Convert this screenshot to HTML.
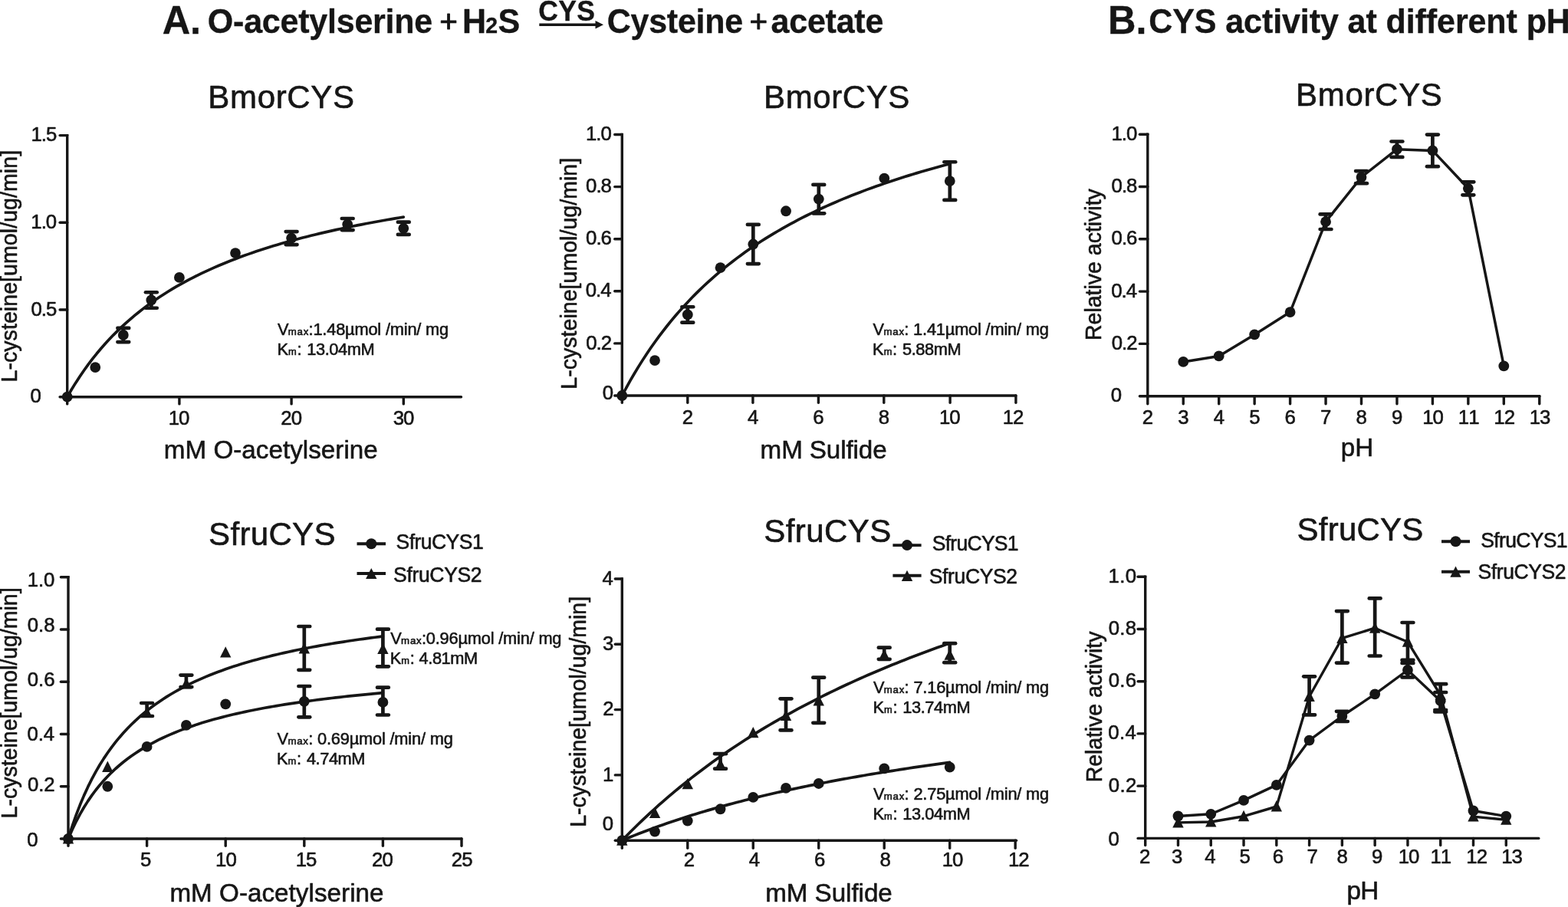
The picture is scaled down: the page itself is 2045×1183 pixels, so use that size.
<!DOCTYPE html>
<html lang="en">
<head>
<meta charset="utf-8">
<title>CYS enzyme kinetics and pH activity</title>
<style>
html, body { margin: 0; padding: 0; background: #ffffff; }
body { width: 2045px; height: 1183px; overflow: hidden; }
svg { display: block; font-family: "Liberation Sans", sans-serif; fill: #161616; stroke: #161616; font-kerning: none; }
svg text { stroke: #161616; stroke-width: 0.6px; stroke-linejoin: round; white-space: pre; }
svg text[font-weight="bold"] { stroke-width: 0.35px; }
svg text.plus { stroke: #161616; stroke-width: 0.9px; }
svg circle, svg polygon { stroke: none; }
</style>
</head>
<body>
<svg width="2045" height="1183" viewBox="0 0 2045 1183">
<rect x="0" y="0" width="2045" height="1183" fill="#ffffff" stroke="none"/>
<text transform="translate(211.64 44) scale(1 1.028)" font-size="50.5" font-weight="bold">A.</text>
<text transform="translate(270.84 42.5) scale(1 1.028)" font-size="43" font-weight="bold" letter-spacing="-0.22">O-acetylserine</text>
<text transform="translate(573.18 42.2)" font-size="40.5" class="plus">+</text>
<text transform="translate(0 42.5) scale(1 1.028)" font-size="43" font-weight="bold"><tspan x="603.02">H</tspan><tspan x="633.31" font-size="28.5">2</tspan><tspan x="649.56">S</tspan></text>
<text transform="translate(702.24 26.6) scale(1 1.028)" font-size="35.5" font-weight="bold" letter-spacing="0.37">CYS</text>
<line x1="703.3" y1="32.3" x2="778" y2="32.3" stroke-width="3.5"/>
<polygon points="776.5,27 787,32.3 776.5,37.6"/>
<text transform="translate(791.64 42.5) scale(1 1.028)" font-size="43" font-weight="bold" letter-spacing="-0.23">Cysteine</text>
<text transform="translate(977.58 42.2)" font-size="40.5" class="plus">+</text>
<text transform="translate(1005.54 42.5) scale(1 1.028)" font-size="43" font-weight="bold" letter-spacing="-0.23">acetate</text>
<text transform="translate(1445.12 44) scale(1 1.028)" font-size="50.5" font-weight="bold">B.</text>
<text transform="translate(1498.24 42.6) scale(1 1.028)" font-size="43" font-weight="bold" letter-spacing="-0.08">CYS activity at different pH</text>
<text transform="translate(271.35 140.7) scale(1 1.028)" font-size="42" letter-spacing="0.66">BmorCYS</text>
<line x1="87.7" y1="174.9" x2="87.7" y2="519.4" stroke-width="3.4"/>
<line x1="78.1" y1="517.7" x2="601.5" y2="517.7" stroke-width="3.4" stroke-linecap="round"/>
<line x1="78.1" y1="404" x2="87.7" y2="404" stroke-width="3.4" stroke-linecap="round"/>
<line x1="78.1" y1="290.3" x2="87.7" y2="290.3" stroke-width="3.4" stroke-linecap="round"/>
<line x1="78.1" y1="176.6" x2="87.7" y2="176.6" stroke-width="3.4" stroke-linecap="round"/>
<line x1="87.7" y1="517.7" x2="87.7" y2="526.9" stroke-width="3.4" stroke-linecap="round"/>
<line x1="233.9" y1="517.7" x2="233.9" y2="526.9" stroke-width="3.4" stroke-linecap="round"/>
<line x1="380.1" y1="517.7" x2="380.1" y2="526.9" stroke-width="3.4" stroke-linecap="round"/>
<line x1="526.3" y1="517.7" x2="526.3" y2="526.9" stroke-width="3.4" stroke-linecap="round"/>
<text transform="translate(39.59 525.3) scale(1 1.025)" font-size="25.8" letter-spacing="-1">0</text>
<text transform="translate(40.42 411.6) scale(1 1.025)" font-size="25.8" letter-spacing="-1">0.5</text>
<text transform="translate(40.34 297.9) scale(1 1.025)" font-size="25.8" letter-spacing="-1">1.0</text>
<text transform="translate(40.42 184.2) scale(1 1.025)" font-size="25.8" letter-spacing="-1">1.5</text>
<text transform="translate(219.77 554.1) scale(1 1.025)" font-size="25.8" letter-spacing="-1">10</text>
<text transform="translate(366.31 554.1) scale(1 1.025)" font-size="25.8" letter-spacing="-1">20</text>
<text transform="translate(512.66 554.1) scale(1 1.025)" font-size="25.8" letter-spacing="-1">30</text>
<text transform="translate(22.4 498.54) rotate(-90) scale(1 1.028)" font-size="28.5" letter-spacing="0.08">L-cysteine[umol/ug/min]</text>
<text transform="translate(213.8 598.4) scale(1 1.028)" font-size="33.2" letter-spacing="0.03">mM O-acetylserine</text>
<polyline points="87.7,517.7 93.18,508.29 98.67,499.4 104.15,490.97 109.63,482.98 115.11,475.39 120.59,468.17 126.08,461.3 131.56,454.75 137.04,448.5 142.53,442.53 148.01,436.82 153.49,431.36 158.97,426.12 164.45,421.1 169.94,416.27 175.42,411.64 180.9,407.19 186.38,402.91 191.87,398.78 197.35,394.81 202.83,390.98 208.31,387.28 213.8,383.72 219.28,380.27 224.76,376.94 230.25,373.72 235.73,370.6 241.21,367.58 246.69,364.66 252.18,361.82 257.66,359.08 263.14,356.41 268.62,353.83 274.11,351.32 279.59,348.88 285.07,346.51 290.55,344.2 296.03,341.96 301.52,339.78 307,337.66 312.48,335.6 317.96,333.58 323.45,331.62 328.93,329.71 334.41,327.85 339.89,326.04 345.38,324.26 350.86,322.53 356.34,320.85 361.82,319.2 367.31,317.59 372.79,316.02 378.27,314.48 383.75,312.98 389.24,311.51 394.72,310.07 400.2,308.67 405.68,307.29 411.17,305.95 416.65,304.63 422.13,303.34 427.61,302.08 433.1,300.84 438.58,299.63 444.06,298.44 449.54,297.28 455.03,296.14 460.51,295.02 465.99,293.92 471.47,292.85 476.96,291.79 482.44,290.75 487.92,289.74 493.4,288.74 498.89,287.76 504.37,286.8 509.85,285.85 515.34,284.92 520.82,284.01 526.3,283.11" fill="none" stroke-width="3.7" stroke-linejoin="round" stroke-linecap="round"/>
<circle cx="87.7" cy="517.7" r="6.9"/>
<circle cx="124.25" cy="479.04" r="6.9"/>
<line x1="160.8" y1="427.88" x2="160.8" y2="446.07" stroke-width="4.7"/>
<line x1="153.4" y1="427.88" x2="168.2" y2="427.88" stroke-width="4.7" stroke-linecap="round"/>
<line x1="153.4" y1="446.07" x2="168.2" y2="446.07" stroke-width="4.7" stroke-linecap="round"/>
<circle cx="160.8" cy="436.97" r="6.9"/>
<line x1="197.35" y1="381.26" x2="197.35" y2="401.73" stroke-width="4.7"/>
<line x1="189.95" y1="381.26" x2="204.75" y2="381.26" stroke-width="4.7" stroke-linecap="round"/>
<line x1="189.95" y1="401.73" x2="204.75" y2="401.73" stroke-width="4.7" stroke-linecap="round"/>
<circle cx="197.35" cy="391.49" r="6.9"/>
<circle cx="233.9" cy="361.93" r="6.9"/>
<circle cx="307" cy="330.1" r="6.9"/>
<line x1="380.1" y1="302.03" x2="380.1" y2="319.04" stroke-width="4.7"/>
<line x1="372.7" y1="302.03" x2="387.5" y2="302.03" stroke-width="4.7" stroke-linecap="round"/>
<line x1="372.7" y1="319.04" x2="387.5" y2="319.04" stroke-width="4.7" stroke-linecap="round"/>
<circle cx="380.1" cy="310.54" r="6.9"/>
<line x1="453.2" y1="285.02" x2="453.2" y2="300.12" stroke-width="4.7"/>
<line x1="445.8" y1="285.02" x2="460.6" y2="285.02" stroke-width="4.7" stroke-linecap="round"/>
<line x1="445.8" y1="300.12" x2="460.6" y2="300.12" stroke-width="4.7" stroke-linecap="round"/>
<circle cx="453.2" cy="292.57" r="6.9"/>
<line x1="526.3" y1="289.66" x2="526.3" y2="305.95" stroke-width="4.7"/>
<line x1="518.9" y1="289.66" x2="533.7" y2="289.66" stroke-width="4.7" stroke-linecap="round"/>
<line x1="518.9" y1="305.95" x2="533.7" y2="305.95" stroke-width="4.7" stroke-linecap="round"/>
<circle cx="526.3" cy="297.8" r="6.9"/>
<text transform="translate(0 436.8) scale(1 1.028)" font-size="21.8"><tspan x="361.9">V</tspan><tspan x="375.82" font-size="13.2" letter-spacing="0.79">max</tspan><tspan x="402.61">:</tspan><tspan x="408.4" letter-spacing="-0.18">1.48µmol /min/ mg</tspan></text>
<text transform="translate(0 462.7) scale(1 1.028)" font-size="21.8"><tspan x="361.41">K</tspan><tspan x="375.95" font-size="12.8">m</tspan><tspan x="387.41">: </tspan><tspan x="400.3" letter-spacing="-0.43">13.04mM</tspan></text>
<text transform="translate(996.05 140.9) scale(1 1.028)" font-size="42" letter-spacing="0.61">BmorCYS</text>
<line x1="811.3" y1="173.8" x2="811.3" y2="517.7" stroke-width="3.4"/>
<line x1="801.7" y1="516" x2="1324.9" y2="516" stroke-width="3.4" stroke-linecap="round"/>
<line x1="801.7" y1="447.9" x2="811.3" y2="447.9" stroke-width="3.4" stroke-linecap="round"/>
<line x1="801.7" y1="379.8" x2="811.3" y2="379.8" stroke-width="3.4" stroke-linecap="round"/>
<line x1="801.7" y1="311.7" x2="811.3" y2="311.7" stroke-width="3.4" stroke-linecap="round"/>
<line x1="801.7" y1="243.6" x2="811.3" y2="243.6" stroke-width="3.4" stroke-linecap="round"/>
<line x1="801.7" y1="175.5" x2="811.3" y2="175.5" stroke-width="3.4" stroke-linecap="round"/>
<line x1="811.3" y1="516" x2="811.3" y2="525.2" stroke-width="3.4" stroke-linecap="round"/>
<line x1="896.8" y1="516" x2="896.8" y2="525.2" stroke-width="3.4" stroke-linecap="round"/>
<line x1="981.9" y1="516" x2="981.9" y2="525.2" stroke-width="3.4" stroke-linecap="round"/>
<line x1="1067.4" y1="516" x2="1067.4" y2="525.2" stroke-width="3.4" stroke-linecap="round"/>
<line x1="1152.8" y1="516" x2="1152.8" y2="525.2" stroke-width="3.4" stroke-linecap="round"/>
<line x1="1239.1" y1="516" x2="1239.1" y2="525.2" stroke-width="3.4" stroke-linecap="round"/>
<line x1="1324.9" y1="516" x2="1324.9" y2="525.2" stroke-width="3.4" stroke-linecap="round"/>
<text transform="translate(785.86 520.8) scale(1 1.025)" font-size="25.8" letter-spacing="-1">0</text>
<text transform="translate(764.23 455.5) scale(1 1.025)" font-size="25.8" letter-spacing="-1">0.2</text>
<text transform="translate(763.69 387.4) scale(1 1.025)" font-size="25.8" letter-spacing="-1">0.4</text>
<text transform="translate(764.07 319.3) scale(1 1.025)" font-size="25.8" letter-spacing="-1">0.6</text>
<text transform="translate(764.06 251.2) scale(1 1.025)" font-size="25.8" letter-spacing="-1">0.8</text>
<text transform="translate(763.94 183.1) scale(1 1.025)" font-size="25.8" letter-spacing="-1">1.0</text>
<text transform="translate(889.83 553) scale(1 1.025)" font-size="25.8" letter-spacing="-1">2</text>
<text transform="translate(975.01 553) scale(1 1.025)" font-size="25.8" letter-spacing="-1">4</text>
<text transform="translate(1060.34 553) scale(1 1.025)" font-size="25.8" letter-spacing="-1">6</text>
<text transform="translate(1145.83 553) scale(1 1.025)" font-size="25.8" letter-spacing="-1">8</text>
<text transform="translate(1224.97 553) scale(1 1.025)" font-size="25.8" letter-spacing="-1">10</text>
<text transform="translate(1307.72 553) scale(1 1.025)" font-size="25.8" letter-spacing="-1">12</text>
<text transform="translate(752.3 507.64) rotate(-90) scale(1 1.028)" font-size="28.5" letter-spacing="0.04">L-cysteine[umol/ug/min]</text>
<text transform="translate(991.6 598.4) scale(1 1.028)" font-size="33.2" letter-spacing="-0.11">mM Sulfide</text>
<polyline points="811.3,516 816.64,506.01 821.99,496.42 827.33,487.22 832.67,478.37 838.02,469.87 843.36,461.69 848.71,453.81 854.05,446.22 859.39,438.9 864.74,431.83 870.08,425.01 875.42,418.42 880.77,412.05 886.11,405.88 891.46,399.92 896.8,394.15 902.14,388.55 907.49,383.13 912.83,377.87 918.17,372.77 923.52,367.82 928.86,363.01 934.21,358.34 939.55,353.8 944.89,349.39 950.24,345.1 955.58,340.92 960.92,336.86 966.27,332.9 971.61,329.04 976.96,325.29 982.3,321.63 987.64,318.06 992.99,314.57 998.33,311.18 1003.67,307.86 1009.02,304.63 1014.36,301.47 1019.71,298.38 1025.05,295.36 1030.39,292.42 1035.74,289.54 1041.08,286.72 1046.42,283.96 1051.77,281.27 1057.11,278.63 1062.46,276.05 1067.8,273.52 1073.14,271.05 1078.49,268.63 1083.83,266.25 1089.17,263.93 1094.52,261.65 1099.86,259.41 1105.21,257.22 1110.55,255.07 1115.89,252.97 1121.24,250.9 1126.58,248.87 1131.92,246.88 1137.27,244.93 1142.61,243.01 1147.96,241.13 1153.3,239.28 1158.64,237.47 1163.99,235.68 1169.33,233.93 1174.67,232.21 1180.02,230.52 1185.36,228.86 1190.71,227.22 1196.05,225.61 1201.39,224.03 1206.74,222.48 1212.08,220.95 1217.42,219.45 1222.77,217.97 1228.11,216.51 1233.46,215.08 1238.8,213.67" fill="none" stroke-width="3.7" stroke-linejoin="round" stroke-linecap="round"/>
<circle cx="811.3" cy="516" r="6.9"/>
<circle cx="854.05" cy="470.03" r="6.9"/>
<line x1="896.8" y1="400.23" x2="896.8" y2="420.66" stroke-width="4.7"/>
<line x1="889.4" y1="400.23" x2="904.2" y2="400.23" stroke-width="4.7" stroke-linecap="round"/>
<line x1="889.4" y1="420.66" x2="904.2" y2="420.66" stroke-width="4.7" stroke-linecap="round"/>
<circle cx="896.8" cy="410.44" r="6.9"/>
<circle cx="939.55" cy="349.15" r="6.9"/>
<line x1="982.3" y1="292.97" x2="982.3" y2="344.05" stroke-width="4.7"/>
<line x1="974.9" y1="292.97" x2="989.7" y2="292.97" stroke-width="4.7" stroke-linecap="round"/>
<line x1="974.9" y1="344.05" x2="989.7" y2="344.05" stroke-width="4.7" stroke-linecap="round"/>
<circle cx="982.3" cy="318.51" r="6.9"/>
<circle cx="1025.05" cy="275.27" r="6.9"/>
<line x1="1067.8" y1="240.88" x2="1067.8" y2="278.33" stroke-width="4.7"/>
<line x1="1060.4" y1="240.88" x2="1075.2" y2="240.88" stroke-width="4.7" stroke-linecap="round"/>
<line x1="1060.4" y1="278.33" x2="1075.2" y2="278.33" stroke-width="4.7" stroke-linecap="round"/>
<circle cx="1067.8" cy="259.6" r="6.9"/>
<circle cx="1153.3" cy="232.7" r="6.9"/>
<line x1="1238.8" y1="211.25" x2="1238.8" y2="260.97" stroke-width="4.7"/>
<line x1="1231.4" y1="211.25" x2="1246.2" y2="211.25" stroke-width="4.7" stroke-linecap="round"/>
<line x1="1231.4" y1="260.97" x2="1246.2" y2="260.97" stroke-width="4.7" stroke-linecap="round"/>
<circle cx="1238.8" cy="236.11" r="6.9"/>
<text transform="translate(0 436.8) scale(1 1.028)" font-size="21.8"><tspan x="1138.6">V</tspan><tspan x="1152.52" font-size="13.2" letter-spacing="0.79">max</tspan><tspan x="1179.31">: </tspan><tspan x="1191.1" letter-spacing="-0.18">1.41µmol /min/ mg</tspan></text>
<text transform="translate(0 462.7) scale(1 1.028)" font-size="21.8"><tspan x="1138.11">K</tspan><tspan x="1152.65" font-size="12.8">m</tspan><tspan x="1164.11">: </tspan><tspan x="1177" letter-spacing="-0.43">5.88mM</tspan></text>
<text transform="translate(1690.05 137.6) scale(1 1.028)" font-size="42" letter-spacing="0.69">BmorCYS</text>
<line x1="1496.8" y1="173.5" x2="1496.8" y2="518.4" stroke-width="3.4"/>
<line x1="1486.4" y1="516.7" x2="2008" y2="516.7" stroke-width="3.4" stroke-linecap="round"/>
<line x1="1486.4" y1="448.4" x2="1496.8" y2="448.4" stroke-width="3.4" stroke-linecap="round"/>
<line x1="1486.4" y1="380.1" x2="1496.8" y2="380.1" stroke-width="3.4" stroke-linecap="round"/>
<line x1="1486.4" y1="311.8" x2="1496.8" y2="311.8" stroke-width="3.4" stroke-linecap="round"/>
<line x1="1486.4" y1="243.5" x2="1496.8" y2="243.5" stroke-width="3.4" stroke-linecap="round"/>
<line x1="1486.4" y1="175.2" x2="1496.8" y2="175.2" stroke-width="3.4" stroke-linecap="round"/>
<line x1="1496.8" y1="516.7" x2="1496.8" y2="526.7" stroke-width="3.4" stroke-linecap="round"/>
<line x1="1543.25" y1="516.7" x2="1543.25" y2="526.7" stroke-width="3.4" stroke-linecap="round"/>
<line x1="1589.7" y1="516.7" x2="1589.7" y2="526.7" stroke-width="3.4" stroke-linecap="round"/>
<line x1="1636.15" y1="516.7" x2="1636.15" y2="526.7" stroke-width="3.4" stroke-linecap="round"/>
<line x1="1682.6" y1="516.7" x2="1682.6" y2="526.7" stroke-width="3.4" stroke-linecap="round"/>
<line x1="1729.05" y1="516.7" x2="1729.05" y2="526.7" stroke-width="3.4" stroke-linecap="round"/>
<line x1="1775.5" y1="516.7" x2="1775.5" y2="526.7" stroke-width="3.4" stroke-linecap="round"/>
<line x1="1821.95" y1="516.7" x2="1821.95" y2="526.7" stroke-width="3.4" stroke-linecap="round"/>
<line x1="1868.4" y1="516.7" x2="1868.4" y2="526.7" stroke-width="3.4" stroke-linecap="round"/>
<line x1="1914.85" y1="516.7" x2="1914.85" y2="526.7" stroke-width="3.4" stroke-linecap="round"/>
<line x1="1961.3" y1="516.7" x2="1961.3" y2="526.7" stroke-width="3.4" stroke-linecap="round"/>
<line x1="2007.75" y1="516.7" x2="2007.75" y2="526.7" stroke-width="3.4" stroke-linecap="round"/>
<text transform="translate(1448.69 524.3) scale(1 1.025)" font-size="25.8" letter-spacing="-1">0</text>
<text transform="translate(1449.73 456) scale(1 1.025)" font-size="25.8" letter-spacing="-1">0.2</text>
<text transform="translate(1449.19 387.7) scale(1 1.025)" font-size="25.8" letter-spacing="-1">0.4</text>
<text transform="translate(1449.57 319.4) scale(1 1.025)" font-size="25.8" letter-spacing="-1">0.6</text>
<text transform="translate(1449.56 251.1) scale(1 1.025)" font-size="25.8" letter-spacing="-1">0.8</text>
<text transform="translate(1449.44 182.8) scale(1 1.025)" font-size="25.8" letter-spacing="-1">1.0</text>
<text transform="translate(1489.83 553.1) scale(1 1.025)" font-size="25.8" letter-spacing="-1">2</text>
<text transform="translate(1536.35 553.1) scale(1 1.025)" font-size="25.8" letter-spacing="-1">3</text>
<text transform="translate(1582.81 553.1) scale(1 1.025)" font-size="25.8" letter-spacing="-1">4</text>
<text transform="translate(1629.2 553.1) scale(1 1.025)" font-size="25.8" letter-spacing="-1">5</text>
<text transform="translate(1675.54 553.1) scale(1 1.025)" font-size="25.8" letter-spacing="-1">6</text>
<text transform="translate(1722.06 553.1) scale(1 1.025)" font-size="25.8" letter-spacing="-1">7</text>
<text transform="translate(1768.53 553.1) scale(1 1.025)" font-size="25.8" letter-spacing="-1">8</text>
<text transform="translate(1814.98 553.1) scale(1 1.025)" font-size="25.8" letter-spacing="-1">9</text>
<text transform="translate(1855.27 553.1) scale(1 1.025)" font-size="25.8" letter-spacing="-1">10</text>
<text transform="translate(1901.85 553.1) scale(1 1.025)" font-size="25.8" letter-spacing="-1">11</text>
<text transform="translate(1948.32 553.1) scale(1 1.025)" font-size="25.8" letter-spacing="-1">12</text>
<text transform="translate(1994.69 553.1) scale(1 1.025)" font-size="25.8" letter-spacing="-1">13</text>
<text transform="translate(1436.3 443.94) rotate(-90) scale(1 1.028)" font-size="28.5" letter-spacing="-0.01">Relative activity</text>
<text transform="translate(1748.76 595) scale(1 1.028)" font-size="33.2" letter-spacing="0.11">pH</text>
<polyline points="1543.25,471.96 1589.7,464.45 1636.15,436.45 1682.6,407.08 1729.05,289.19 1775.5,231.1 1821.95,194.7 1868.4,196.41 1914.85,245.82 1961.3,477.43" fill="none" stroke-width="3.5" stroke-linejoin="round" stroke-linecap="round"/>
<circle cx="1543.25" cy="471.96" r="6.9"/>
<circle cx="1589.7" cy="464.45" r="6.9"/>
<circle cx="1636.15" cy="436.45" r="6.9"/>
<circle cx="1682.6" cy="407.08" r="6.9"/>
<line x1="1729.05" y1="279.39" x2="1729.05" y2="298.99" stroke-width="4.7"/>
<line x1="1721.65" y1="279.39" x2="1736.45" y2="279.39" stroke-width="4.7" stroke-linecap="round"/>
<line x1="1721.65" y1="298.99" x2="1736.45" y2="298.99" stroke-width="4.7" stroke-linecap="round"/>
<circle cx="1729.05" cy="289.19" r="6.9"/>
<line x1="1775.5" y1="223.04" x2="1775.5" y2="239.16" stroke-width="4.7"/>
<line x1="1768.1" y1="223.04" x2="1782.9" y2="223.04" stroke-width="4.7" stroke-linecap="round"/>
<line x1="1768.1" y1="239.16" x2="1782.9" y2="239.16" stroke-width="4.7" stroke-linecap="round"/>
<circle cx="1775.5" cy="231.1" r="6.9"/>
<line x1="1821.95" y1="184.49" x2="1821.95" y2="204.91" stroke-width="4.7"/>
<line x1="1814.55" y1="184.49" x2="1829.35" y2="184.49" stroke-width="4.7" stroke-linecap="round"/>
<line x1="1814.55" y1="204.91" x2="1829.35" y2="204.91" stroke-width="4.7" stroke-linecap="round"/>
<circle cx="1821.95" cy="194.7" r="6.9"/>
<line x1="1868.4" y1="175.61" x2="1868.4" y2="217.2" stroke-width="4.7"/>
<line x1="1861" y1="175.61" x2="1875.8" y2="175.61" stroke-width="4.7" stroke-linecap="round"/>
<line x1="1861" y1="217.2" x2="1875.8" y2="217.2" stroke-width="4.7" stroke-linecap="round"/>
<circle cx="1868.4" cy="196.41" r="6.9"/>
<line x1="1914.85" y1="237.32" x2="1914.85" y2="254.33" stroke-width="4.7"/>
<line x1="1907.45" y1="237.32" x2="1922.25" y2="237.32" stroke-width="4.7" stroke-linecap="round"/>
<line x1="1907.45" y1="254.33" x2="1922.25" y2="254.33" stroke-width="4.7" stroke-linecap="round"/>
<circle cx="1914.85" cy="245.82" r="6.9"/>
<circle cx="1961.3" cy="477.43" r="6.9"/>
<text transform="translate(272.09 711.3) scale(1 1.028)" font-size="42" letter-spacing="0.34">SfruCYS</text>
<line x1="465.5" y1="709.3" x2="503" y2="709.3" stroke-width="3.9"/>
<circle cx="484.25" cy="709.3" r="7"/>
<text transform="translate(516.5 716) scale(1 1.028)" font-size="26.5" letter-spacing="-0.52">SfruCYS1</text>
<line x1="465.5" y1="748" x2="503" y2="748" stroke-width="3.9"/>
<polygon points="484.25,740.89 491.45,755.09 477.05,755.09"/>
<text transform="translate(513.1 758.5) scale(1 1.028)" font-size="26.5" letter-spacing="-0.33">SfruCYS2</text>
<line x1="89" y1="751.1" x2="89" y2="1095.7" stroke-width="3.4"/>
<line x1="79.4" y1="1094" x2="602" y2="1094" stroke-width="3.4" stroke-linecap="round"/>
<line x1="79.4" y1="1025.76" x2="89" y2="1025.76" stroke-width="3.4" stroke-linecap="round"/>
<line x1="79.4" y1="957.52" x2="89" y2="957.52" stroke-width="3.4" stroke-linecap="round"/>
<line x1="79.4" y1="889.28" x2="89" y2="889.28" stroke-width="3.4" stroke-linecap="round"/>
<line x1="79.4" y1="821.04" x2="89" y2="821.04" stroke-width="3.4" stroke-linecap="round"/>
<line x1="79.4" y1="752.8" x2="89" y2="752.8" stroke-width="3.4" stroke-linecap="round"/>
<line x1="89" y1="1094" x2="89" y2="1103.2" stroke-width="3.4" stroke-linecap="round"/>
<line x1="191.6" y1="1094" x2="191.6" y2="1103.2" stroke-width="3.4" stroke-linecap="round"/>
<line x1="294.2" y1="1094" x2="294.2" y2="1103.2" stroke-width="3.4" stroke-linecap="round"/>
<line x1="396.8" y1="1094" x2="396.8" y2="1103.2" stroke-width="3.4" stroke-linecap="round"/>
<line x1="499.4" y1="1094" x2="499.4" y2="1103.2" stroke-width="3.4" stroke-linecap="round"/>
<line x1="602" y1="1094" x2="602" y2="1103.2" stroke-width="3.4" stroke-linecap="round"/>
<text transform="translate(35.29 1104.43) scale(1 1.025)" font-size="25.8" letter-spacing="-0.05">0</text>
<text transform="translate(35.93 1032.03) scale(1 1.025)" font-size="25.8" letter-spacing="-0.05">0.2</text>
<text transform="translate(35.39 965.83) scale(1 1.025)" font-size="25.8" letter-spacing="-0.05">0.4</text>
<text transform="translate(35.77 895.03) scale(1 1.025)" font-size="25.8" letter-spacing="-0.05">0.6</text>
<text transform="translate(35.76 824.33) scale(1 1.025)" font-size="25.8" letter-spacing="-0.05">0.8</text>
<text transform="translate(35.64 765.33) scale(1 1.025)" font-size="25.8" letter-spacing="-0.05">1.0</text>
<text transform="translate(183.05 1129.6) scale(1 1.025)" font-size="25.8" letter-spacing="-1">5</text>
<text transform="translate(281.07 1129.6) scale(1 1.025)" font-size="25.8" letter-spacing="-1">10</text>
<text transform="translate(385.71 1129.6) scale(1 1.025)" font-size="25.8" letter-spacing="-1">15</text>
<text transform="translate(485.11 1129.6) scale(1 1.025)" font-size="25.8" letter-spacing="-1">20</text>
<text transform="translate(588.84 1129.6) scale(1 1.025)" font-size="25.8" letter-spacing="-1">25</text>
<text transform="translate(22.3 1067.44) rotate(-90) scale(1 1.028)" font-size="28.5" letter-spacing="0.01">L-cysteine[umol/ug/min]</text>
<text transform="translate(221.4 1175.7) scale(1 1.028)" font-size="33.2" letter-spacing="0.04">mM O-acetylserine</text>
<polyline points="89,1094 94.13,1077.82 99.26,1063.16 104.39,1049.82 109.52,1037.62 114.65,1026.44 119.78,1016.14 124.91,1006.62 130.04,997.8 135.17,989.61 140.3,981.98 145.43,974.85 150.56,968.18 155.69,961.92 160.82,956.04 165.95,950.5 171.08,945.28 176.21,940.35 181.34,935.68 186.47,931.25 191.6,927.05 196.73,923.06 201.86,919.26 206.99,915.65 212.12,912.2 217.25,908.9 222.38,905.75 227.51,902.74 232.64,899.85 237.77,897.09 242.9,894.44 248.03,891.89 253.16,889.44 258.29,887.09 263.42,884.82 268.55,882.64 273.68,880.53 278.81,878.51 283.94,876.55 289.07,874.66 294.2,872.83 299.33,871.06 304.46,869.36 309.59,867.7 314.72,866.1 319.85,864.55 324.98,863.05 330.11,861.59 335.24,860.17 340.37,858.8 345.5,857.47 350.63,856.17 355.76,854.91 360.89,853.69 366.02,852.5 371.15,851.34 376.28,850.21 381.41,849.11 386.54,848.04 391.67,847 396.8,845.98 401.93,844.99 407.06,844.02 412.19,843.08 417.32,842.16 422.45,841.26 427.58,840.38 432.71,839.52 437.84,838.69 442.97,837.87 448.1,837.07 453.23,836.29 458.36,835.52 463.49,834.77 468.62,834.04 473.75,833.32 478.88,832.62 484.01,831.93 489.14,831.26 494.27,830.6 499.4,829.95" fill="none" stroke-width="3.7" stroke-linejoin="round" stroke-linecap="round"/>
<polyline points="89,1094 94.13,1082.21 99.26,1071.54 104.39,1061.84 109.52,1052.98 114.65,1044.87 119.78,1037.41 124.91,1030.52 130.04,1024.14 135.17,1018.22 140.3,1012.71 145.43,1007.56 150.56,1002.75 155.69,998.24 160.82,994 165.95,990.01 171.08,986.25 176.21,982.7 181.34,979.34 186.47,976.16 191.6,973.14 196.73,970.28 201.86,967.55 206.99,964.95 212.12,962.48 217.25,960.11 222.38,957.85 227.51,955.69 232.64,953.63 237.77,951.64 242.9,949.74 248.03,947.92 253.16,946.16 258.29,944.48 263.42,942.86 268.55,941.29 273.68,939.79 278.81,938.34 283.94,936.94 289.07,935.59 294.2,934.28 299.33,933.02 304.46,931.8 309.59,930.61 314.72,929.47 319.85,928.36 324.98,927.29 330.11,926.25 335.24,925.23 340.37,924.25 345.5,923.3 350.63,922.38 355.76,921.48 360.89,920.6 366.02,919.75 371.15,918.93 376.28,918.12 381.41,917.34 386.54,916.57 391.67,915.83 396.8,915.1 401.93,914.4 407.06,913.71 412.19,913.03 417.32,912.38 422.45,911.74 427.58,911.11 432.71,910.5 437.84,909.9 442.97,909.32 448.1,908.75 453.23,908.19 458.36,907.65 463.49,907.11 468.62,906.59 473.75,906.08 478.88,905.58 484.01,905.09 489.14,904.61 494.27,904.14 499.4,903.68" fill="none" stroke-width="3.7" stroke-linejoin="round" stroke-linecap="round"/>
<polygon points="89,1086.08 96.2,1100.48 81.8,1100.48"/>
<polygon points="140.3,992.59 147.5,1006.99 133.1,1006.99"/>
<line x1="191.6" y1="917" x2="191.6" y2="934" stroke-width="4.7"/>
<line x1="184.2" y1="917" x2="199" y2="917" stroke-width="4.7" stroke-linecap="round"/>
<line x1="184.2" y1="934" x2="199" y2="934" stroke-width="4.7" stroke-linecap="round"/>
<polygon points="191.6,921.62 198.8,936.02 184.4,936.02"/>
<line x1="242.9" y1="880.6" x2="242.9" y2="896" stroke-width="4.7"/>
<line x1="235.5" y1="880.6" x2="250.3" y2="880.6" stroke-width="4.7" stroke-linecap="round"/>
<line x1="235.5" y1="896" x2="250.3" y2="896" stroke-width="4.7" stroke-linecap="round"/>
<polygon points="242.9,884.09 250.1,898.49 235.7,898.49"/>
<polygon points="294.2,843.15 301.4,857.55 287,857.55"/>
<line x1="396.8" y1="817" x2="396.8" y2="873.8" stroke-width="4.7"/>
<line x1="389.4" y1="817" x2="404.2" y2="817" stroke-width="4.7" stroke-linecap="round"/>
<line x1="389.4" y1="873.8" x2="404.2" y2="873.8" stroke-width="4.7" stroke-linecap="round"/>
<polygon points="396.8,838.03 404,852.43 389.6,852.43"/>
<line x1="499.4" y1="820.7" x2="499.4" y2="869.3" stroke-width="4.7"/>
<line x1="492" y1="820.7" x2="506.8" y2="820.7" stroke-width="4.7" stroke-linecap="round"/>
<line x1="492" y1="869.3" x2="506.8" y2="869.3" stroke-width="4.7" stroke-linecap="round"/>
<polygon points="499.4,838.71 506.6,853.11 492.2,853.11"/>
<circle cx="89" cy="1094" r="6.9"/>
<circle cx="140.3" cy="1025.76" r="6.9"/>
<circle cx="191.6" cy="973.9" r="6.9"/>
<circle cx="242.9" cy="945.92" r="6.9"/>
<circle cx="294.2" cy="918.28" r="6.9"/>
<line x1="396.8" y1="895" x2="396.8" y2="935.3" stroke-width="4.7"/>
<line x1="389.4" y1="895" x2="404.2" y2="895" stroke-width="4.7" stroke-linecap="round"/>
<line x1="389.4" y1="935.3" x2="404.2" y2="935.3" stroke-width="4.7" stroke-linecap="round"/>
<circle cx="396.8" cy="914.87" r="6.9"/>
<line x1="499.4" y1="896.7" x2="499.4" y2="932.5" stroke-width="4.7"/>
<line x1="492" y1="896.7" x2="506.8" y2="896.7" stroke-width="4.7" stroke-linecap="round"/>
<line x1="492" y1="932.5" x2="506.8" y2="932.5" stroke-width="4.7" stroke-linecap="round"/>
<circle cx="499.4" cy="915.89" r="6.9"/>
<text transform="translate(0 840.2) scale(1 1.028)" font-size="21.8"><tspan x="509.2">V</tspan><tspan x="523.12" font-size="13.2" letter-spacing="0.79">max</tspan><tspan x="549.91">:</tspan><tspan x="555.7" letter-spacing="-0.18">0.96µmol /min/ mg</tspan></text>
<text transform="translate(0 866.1) scale(1 1.028)" font-size="21.8"><tspan x="508.71">K</tspan><tspan x="523.25" font-size="12.8">m</tspan><tspan x="534.71">: </tspan><tspan x="546.6" letter-spacing="-0.43">4.81mM</tspan></text>
<text transform="translate(0 971.4) scale(1 1.028)" font-size="21.8"><tspan x="361.5">V</tspan><tspan x="375.42" font-size="13.2" letter-spacing="0.79">max</tspan><tspan x="402.21">: </tspan><tspan x="414" letter-spacing="-0.18">0.69µmol /min/ mg</tspan></text>
<text transform="translate(0 997.3) scale(1 1.028)" font-size="21.8"><tspan x="361.01">K</tspan><tspan x="375.55" font-size="12.8">m</tspan><tspan x="387.01">: </tspan><tspan x="399.9" letter-spacing="-0.43">4.74mM</tspan></text>
<text transform="translate(996.29 707.3) scale(1 1.028)" font-size="42" letter-spacing="0.44">SfruCYS</text>
<line x1="1164.4" y1="711.1" x2="1201.6" y2="711.1" stroke-width="3.9"/>
<circle cx="1183" cy="711.1" r="7"/>
<text transform="translate(1215.7 718.2) scale(1 1.028)" font-size="26.5" letter-spacing="-0.7">SfruCYS1</text>
<line x1="1164.4" y1="750.8" x2="1201.6" y2="750.8" stroke-width="3.9"/>
<polygon points="1183,743.69 1190.2,757.89 1175.8,757.89"/>
<text transform="translate(1211.8 760.5) scale(1 1.028)" font-size="26.5" letter-spacing="-0.36">SfruCYS2</text>
<line x1="811.3" y1="753.3" x2="811.3" y2="1097.9" stroke-width="3.4"/>
<line x1="802.3" y1="1096.2" x2="1325.5" y2="1096.2" stroke-width="3.4" stroke-linecap="round"/>
<line x1="802.3" y1="1010.9" x2="811.3" y2="1010.9" stroke-width="3.4" stroke-linecap="round"/>
<line x1="802.3" y1="925.6" x2="811.3" y2="925.6" stroke-width="3.4" stroke-linecap="round"/>
<line x1="802.3" y1="840.3" x2="811.3" y2="840.3" stroke-width="3.4" stroke-linecap="round"/>
<line x1="802.3" y1="755" x2="811.3" y2="755" stroke-width="3.4" stroke-linecap="round"/>
<line x1="811.3" y1="1096.2" x2="811.3" y2="1106.2" stroke-width="3.4" stroke-linecap="round"/>
<line x1="896.78" y1="1096.2" x2="896.78" y2="1106.2" stroke-width="3.4" stroke-linecap="round"/>
<line x1="982.26" y1="1096.2" x2="982.26" y2="1106.2" stroke-width="3.4" stroke-linecap="round"/>
<line x1="1067.74" y1="1096.2" x2="1067.74" y2="1106.2" stroke-width="3.4" stroke-linecap="round"/>
<line x1="1153.22" y1="1096.2" x2="1153.22" y2="1106.2" stroke-width="3.4" stroke-linecap="round"/>
<line x1="1238.7" y1="1096.2" x2="1238.7" y2="1106.2" stroke-width="3.4" stroke-linecap="round"/>
<line x1="1324.18" y1="1096.2" x2="1324.18" y2="1106.2" stroke-width="3.4" stroke-linecap="round"/>
<text transform="translate(785.86 1083) scale(1 1.025)" font-size="25.8" letter-spacing="-1">0</text>
<text transform="translate(786.11 1018.5) scale(1 1.025)" font-size="25.8" letter-spacing="-1">1</text>
<text transform="translate(786.15 933.2) scale(1 1.025)" font-size="25.8" letter-spacing="-1">2</text>
<text transform="translate(785.99 847.9) scale(1 1.025)" font-size="25.8" letter-spacing="-1">3</text>
<text transform="translate(785.61 762.6) scale(1 1.025)" font-size="25.8" letter-spacing="-1">4</text>
<text transform="translate(891.71 1130.2) scale(1 1.025)" font-size="25.8" letter-spacing="-1">2</text>
<text transform="translate(976.87 1130.2) scale(1 1.025)" font-size="25.8" letter-spacing="-1">4</text>
<text transform="translate(1061.88 1130.2) scale(1 1.025)" font-size="25.8" letter-spacing="-1">6</text>
<text transform="translate(1147.45 1130.2) scale(1 1.025)" font-size="25.8" letter-spacing="-1">8</text>
<text transform="translate(1228.77 1130.2) scale(1 1.025)" font-size="25.8" letter-spacing="-1">10</text>
<text transform="translate(1315 1130.2) scale(1 1.025)" font-size="25.8" letter-spacing="-1">12</text>
<text transform="translate(764 1078.74) rotate(-90) scale(1 1.028)" font-size="28.5" letter-spacing="0">L-cysteine[umol/ug/min]</text>
<text transform="translate(998.2 1175.7) scale(1 1.028)" font-size="33.2" letter-spacing="-0.05">mM Sulfide</text>
<polyline points="811.3,1096.2 816.64,1090.69 821.98,1085.29 827.33,1079.97 832.67,1074.76 838.01,1069.63 843.35,1064.59 848.7,1059.63 854.04,1054.77 859.38,1049.98 864.72,1045.27 870.07,1040.64 875.41,1036.09 880.75,1031.61 886.09,1027.2 891.44,1022.86 896.78,1018.6 902.12,1014.39 907.46,1010.26 912.81,1006.19 918.15,1002.18 923.49,998.23 928.83,994.35 934.18,990.52 939.52,986.75 944.86,983.03 950.2,979.37 955.55,975.76 960.89,972.21 966.23,968.7 971.57,965.25 976.92,961.85 982.26,958.49 987.6,955.18 992.94,951.92 998.29,948.7 1003.63,945.52 1008.97,942.39 1014.31,939.3 1019.66,936.25 1025,933.25 1030.34,930.28 1035.68,927.35 1041.03,924.46 1046.37,921.61 1051.71,918.79 1057.06,916.02 1062.4,913.27 1067.74,910.56 1073.08,907.89 1078.42,905.25 1083.77,902.64 1089.11,900.06 1094.45,897.52 1099.8,895 1105.14,892.52 1110.48,890.07 1115.82,887.64 1121.16,885.25 1126.51,882.88 1131.85,880.54 1137.19,878.23 1142.53,875.94 1147.88,873.69 1153.22,871.45 1158.56,869.25 1163.9,867.07 1169.25,864.91 1174.59,862.78 1179.93,860.67 1185.28,858.58 1190.62,856.52 1195.96,854.48 1201.3,852.46 1206.64,850.47 1211.99,848.49 1217.33,846.54 1222.67,844.61 1228.01,842.7 1233.36,840.81 1238.7,838.93" fill="none" stroke-width="3.7" stroke-linejoin="round" stroke-linecap="round"/>
<polyline points="811.3,1096.2 816.64,1093.97 821.98,1091.79 827.33,1089.64 832.67,1087.54 838.01,1085.47 843.35,1083.44 848.7,1081.45 854.04,1079.49 859.38,1077.57 864.72,1075.68 870.07,1073.82 875.41,1072 880.75,1070.21 886.09,1068.44 891.44,1066.71 896.78,1065.01 902.12,1063.33 907.46,1061.68 912.81,1060.06 918.15,1058.46 923.49,1056.89 928.83,1055.35 934.18,1053.82 939.52,1052.33 944.86,1050.85 950.2,1049.4 955.55,1047.97 960.89,1046.56 966.23,1045.17 971.57,1043.81 976.92,1042.46 982.26,1041.14 987.6,1039.83 992.94,1038.54 998.29,1037.27 1003.63,1036.02 1008.97,1034.78 1014.31,1033.57 1019.66,1032.37 1025,1031.18 1030.34,1030.02 1035.68,1028.87 1041.03,1027.73 1046.37,1026.61 1051.71,1025.51 1057.06,1024.42 1062.4,1023.34 1067.74,1022.28 1073.08,1021.23 1078.42,1020.2 1083.77,1019.18 1089.11,1018.17 1094.45,1017.17 1099.8,1016.19 1105.14,1015.22 1110.48,1014.26 1115.82,1013.32 1121.16,1012.38 1126.51,1011.46 1131.85,1010.55 1137.19,1009.65 1142.53,1008.76 1147.88,1007.88 1153.22,1007.01 1158.56,1006.15 1163.9,1005.3 1169.25,1004.46 1174.59,1003.63 1179.93,1002.81 1185.28,1002 1190.62,1001.2 1195.96,1000.41 1201.3,999.63 1206.64,998.86 1211.99,998.09 1217.33,997.33 1222.67,996.58 1228.01,995.84 1233.36,995.11 1238.7,994.39" fill="none" stroke-width="3.7" stroke-linejoin="round" stroke-linecap="round"/>
<polygon points="811.3,1088.28 818.5,1102.68 804.1,1102.68"/>
<polygon points="854.04,1052.71 861.24,1067.11 846.84,1067.11"/>
<polygon points="896.78,1014.92 903.98,1029.32 889.58,1029.32"/>
<line x1="939.52" y1="983.2" x2="939.52" y2="1002.7" stroke-width="4.7"/>
<line x1="932.12" y1="983.2" x2="946.92" y2="983.2" stroke-width="4.7" stroke-linecap="round"/>
<line x1="932.12" y1="1002.7" x2="946.92" y2="1002.7" stroke-width="4.7" stroke-linecap="round"/>
<polygon points="939.52,989.33 946.72,1003.73 932.32,1003.73"/>
<polygon points="982.26,947.96 989.46,962.36 975.06,962.36"/>
<line x1="1025" y1="911.3" x2="1025" y2="952.4" stroke-width="4.7"/>
<line x1="1017.6" y1="911.3" x2="1032.4" y2="911.3" stroke-width="4.7" stroke-linecap="round"/>
<line x1="1017.6" y1="952.4" x2="1032.4" y2="952.4" stroke-width="4.7" stroke-linecap="round"/>
<polygon points="1025,925.7 1032.2,940.1 1017.8,940.1"/>
<line x1="1067.74" y1="883.7" x2="1067.74" y2="942.8" stroke-width="4.7"/>
<line x1="1060.34" y1="883.7" x2="1075.14" y2="883.7" stroke-width="4.7" stroke-linecap="round"/>
<line x1="1060.34" y1="942.8" x2="1075.14" y2="942.8" stroke-width="4.7" stroke-linecap="round"/>
<polygon points="1067.74,906.16 1074.94,920.56 1060.54,920.56"/>
<line x1="1153.22" y1="844.7" x2="1153.22" y2="859.8" stroke-width="4.7"/>
<line x1="1145.82" y1="844.7" x2="1160.62" y2="844.7" stroke-width="4.7" stroke-linecap="round"/>
<line x1="1145.82" y1="859.8" x2="1160.62" y2="859.8" stroke-width="4.7" stroke-linecap="round"/>
<polygon points="1153.22,846.45 1160.42,860.85 1146.02,860.85"/>
<line x1="1238.7" y1="839.2" x2="1238.7" y2="864.2" stroke-width="4.7"/>
<line x1="1231.3" y1="839.2" x2="1246.1" y2="839.2" stroke-width="4.7" stroke-linecap="round"/>
<line x1="1231.3" y1="864.2" x2="1246.1" y2="864.2" stroke-width="4.7" stroke-linecap="round"/>
<polygon points="1238.7,846.45 1245.9,860.85 1231.5,860.85"/>
<circle cx="811.3" cy="1096.2" r="6.9"/>
<circle cx="854.04" cy="1084.6" r="6.9"/>
<circle cx="896.78" cy="1070.61" r="6.9"/>
<circle cx="939.52" cy="1055.26" r="6.9"/>
<circle cx="982.26" cy="1039.9" r="6.9"/>
<circle cx="1025" cy="1027.96" r="6.9"/>
<circle cx="1067.74" cy="1021.99" r="6.9"/>
<circle cx="1153.22" cy="1002.37" r="6.9"/>
<circle cx="1238.7" cy="1000.66" r="6.9"/>
<text transform="translate(0 904.3) scale(1 1.028)" font-size="21.8"><tspan x="1138.9">V</tspan><tspan x="1152.82" font-size="13.2" letter-spacing="0.79">max</tspan><tspan x="1179.61">: </tspan><tspan x="1191.4" letter-spacing="-0.18">7.16µmol /min/ mg</tspan></text>
<text transform="translate(0 930.2) scale(1 1.028)" font-size="21.8"><tspan x="1138.41">K</tspan><tspan x="1152.95" font-size="12.8">m</tspan><tspan x="1164.41">: </tspan><tspan x="1177.3" letter-spacing="-0.43">13.74mM</tspan></text>
<text transform="translate(0 1042.7) scale(1 1.028)" font-size="21.8"><tspan x="1138.9">V</tspan><tspan x="1152.82" font-size="13.2" letter-spacing="0.79">max</tspan><tspan x="1179.61">: </tspan><tspan x="1191.4" letter-spacing="-0.18">2.75µmol /min/ mg</tspan></text>
<text transform="translate(0 1068.6) scale(1 1.028)" font-size="21.8"><tspan x="1138.41">K</tspan><tspan x="1152.95" font-size="12.8">m</tspan><tspan x="1164.41">: </tspan><tspan x="1177.3" letter-spacing="-0.43">13.04mM</tspan></text>
<text transform="translate(1691.59 704.5) scale(1 1.028)" font-size="42" letter-spacing="0.22">SfruCYS</text>
<line x1="1880" y1="706.2" x2="1917" y2="706.2" stroke-width="3.9"/>
<circle cx="1898.5" cy="706.2" r="7"/>
<text transform="translate(1931.3 713.5) scale(1 1.028)" font-size="26.5" letter-spacing="-0.66">SfruCYS1</text>
<line x1="1880" y1="745.7" x2="1917" y2="745.7" stroke-width="3.9"/>
<polygon points="1898.5,738.59 1905.7,752.79 1891.3,752.79"/>
<text transform="translate(1927.6 754.5) scale(1 1.028)" font-size="26.5" letter-spacing="-0.4">SfruCYS2</text>
<line x1="1493.7" y1="750.5" x2="1493.7" y2="1095.1" stroke-width="3.4"/>
<line x1="1484.1" y1="1093.4" x2="2006.8" y2="1093.4" stroke-width="3.4" stroke-linecap="round"/>
<line x1="1484.1" y1="1025.16" x2="1493.7" y2="1025.16" stroke-width="3.4" stroke-linecap="round"/>
<line x1="1484.1" y1="956.92" x2="1493.7" y2="956.92" stroke-width="3.4" stroke-linecap="round"/>
<line x1="1484.1" y1="888.68" x2="1493.7" y2="888.68" stroke-width="3.4" stroke-linecap="round"/>
<line x1="1484.1" y1="820.44" x2="1493.7" y2="820.44" stroke-width="3.4" stroke-linecap="round"/>
<line x1="1484.1" y1="752.2" x2="1493.7" y2="752.2" stroke-width="3.4" stroke-linecap="round"/>
<line x1="1493.7" y1="1093.4" x2="1493.7" y2="1102.6" stroke-width="3.4" stroke-linecap="round"/>
<line x1="1536.48" y1="1093.4" x2="1536.48" y2="1102.6" stroke-width="3.4" stroke-linecap="round"/>
<line x1="1579.26" y1="1093.4" x2="1579.26" y2="1102.6" stroke-width="3.4" stroke-linecap="round"/>
<line x1="1622.04" y1="1093.4" x2="1622.04" y2="1102.6" stroke-width="3.4" stroke-linecap="round"/>
<line x1="1664.82" y1="1093.4" x2="1664.82" y2="1102.6" stroke-width="3.4" stroke-linecap="round"/>
<line x1="1707.6" y1="1093.4" x2="1707.6" y2="1102.6" stroke-width="3.4" stroke-linecap="round"/>
<line x1="1750.38" y1="1093.4" x2="1750.38" y2="1102.6" stroke-width="3.4" stroke-linecap="round"/>
<line x1="1793.16" y1="1093.4" x2="1793.16" y2="1102.6" stroke-width="3.4" stroke-linecap="round"/>
<line x1="1835.94" y1="1093.4" x2="1835.94" y2="1102.6" stroke-width="3.4" stroke-linecap="round"/>
<line x1="1878.72" y1="1093.4" x2="1878.72" y2="1102.6" stroke-width="3.4" stroke-linecap="round"/>
<line x1="1921.5" y1="1093.4" x2="1921.5" y2="1102.6" stroke-width="3.4" stroke-linecap="round"/>
<line x1="1964.28" y1="1093.4" x2="1964.28" y2="1102.6" stroke-width="3.4" stroke-linecap="round"/>
<text transform="translate(1445.59 1103.3) scale(1 1.025)" font-size="25.8" letter-spacing="0.3">0</text>
<text transform="translate(1445.83 1032.56) scale(1 1.025)" font-size="25.8" letter-spacing="0.3">0.2</text>
<text transform="translate(1445.29 964.32) scale(1 1.025)" font-size="25.8" letter-spacing="0.3">0.4</text>
<text transform="translate(1445.67 896.08) scale(1 1.025)" font-size="25.8" letter-spacing="0.3">0.6</text>
<text transform="translate(1445.66 827.84) scale(1 1.025)" font-size="25.8" letter-spacing="0.3">0.8</text>
<text transform="translate(1445.54 759.6) scale(1 1.025)" font-size="25.8" letter-spacing="0.3">1.0</text>
<text transform="translate(1486.03 1126.4) scale(1 1.025)" font-size="25.8" letter-spacing="-1">2</text>
<text transform="translate(1527.88 1126.4) scale(1 1.025)" font-size="25.8" letter-spacing="-1">3</text>
<text transform="translate(1571.17 1126.4) scale(1 1.025)" font-size="25.8" letter-spacing="-1">4</text>
<text transform="translate(1616.59 1126.4) scale(1 1.025)" font-size="25.8" letter-spacing="-1">5</text>
<text transform="translate(1659.66 1126.4) scale(1 1.025)" font-size="25.8" letter-spacing="-1">6</text>
<text transform="translate(1704.51 1126.4) scale(1 1.025)" font-size="25.8" letter-spacing="-1">7</text>
<text transform="translate(1743.41 1126.4) scale(1 1.025)" font-size="25.8" letter-spacing="-1">8</text>
<text transform="translate(1788.89 1126.4) scale(1 1.025)" font-size="25.8" letter-spacing="-1">9</text>
<text transform="translate(1823.71 1126.4) scale(1 1.025)" font-size="25.8" letter-spacing="-1">10</text>
<text transform="translate(1865.42 1126.4) scale(1 1.025)" font-size="25.8" letter-spacing="-1">11</text>
<text transform="translate(1912.32 1126.4) scale(1 1.025)" font-size="25.8" letter-spacing="-1">12</text>
<text transform="translate(1958.22 1126.4) scale(1 1.025)" font-size="25.8" letter-spacing="-1">13</text>
<text transform="translate(1436.6 1020.24) rotate(-90) scale(1 1.028)" font-size="28.5" letter-spacing="-0.08">Relative activity</text>
<text transform="translate(1756.46 1172.8) scale(1 1.028)" font-size="33.2" letter-spacing="-0.59">pH</text>
<polyline points="1536.48,1072.9 1579.26,1072 1622.04,1064.7 1664.82,1052 1707.6,908.5 1750.38,832.4 1793.16,819.2 1835.94,837.2 1878.72,906.5 1921.5,1065.1 1964.28,1069.3" fill="none" stroke-width="3.4" stroke-linejoin="round" stroke-linecap="round"/>
<polyline points="1536.48,1064.5 1579.26,1061.8 1622.04,1043.9 1664.82,1023.9 1707.6,965.6 1750.38,934 1793.16,905.4 1835.94,874 1878.72,914.2 1921.5,1057.5 1964.28,1064.6" fill="none" stroke-width="3.4" stroke-linejoin="round" stroke-linecap="round"/>
<polygon points="1536.48,1064.98 1543.68,1079.38 1529.28,1079.38"/>
<polygon points="1579.26,1064.08 1586.46,1078.48 1572.06,1078.48"/>
<polygon points="1622.04,1056.78 1629.24,1071.18 1614.84,1071.18"/>
<polygon points="1664.82,1044.08 1672.02,1058.48 1657.62,1058.48"/>
<line x1="1707.6" y1="882.3" x2="1707.6" y2="932.4" stroke-width="4.7"/>
<line x1="1700.2" y1="882.3" x2="1715" y2="882.3" stroke-width="4.7" stroke-linecap="round"/>
<line x1="1700.2" y1="932.4" x2="1715" y2="932.4" stroke-width="4.7" stroke-linecap="round"/>
<polygon points="1707.6,900.58 1714.8,914.98 1700.4,914.98"/>
<line x1="1750.38" y1="797.1" x2="1750.38" y2="864.6" stroke-width="4.7"/>
<line x1="1742.98" y1="797.1" x2="1757.78" y2="797.1" stroke-width="4.7" stroke-linecap="round"/>
<line x1="1742.98" y1="864.6" x2="1757.78" y2="864.6" stroke-width="4.7" stroke-linecap="round"/>
<polygon points="1750.38,824.48 1757.58,838.88 1743.18,838.88"/>
<line x1="1793.16" y1="780.4" x2="1793.16" y2="855.5" stroke-width="4.7"/>
<line x1="1785.76" y1="780.4" x2="1800.56" y2="780.4" stroke-width="4.7" stroke-linecap="round"/>
<line x1="1785.76" y1="855.5" x2="1800.56" y2="855.5" stroke-width="4.7" stroke-linecap="round"/>
<polygon points="1793.16,811.28 1800.36,825.68 1785.96,825.68"/>
<line x1="1835.94" y1="812" x2="1835.94" y2="860.9" stroke-width="4.7"/>
<line x1="1828.54" y1="812" x2="1843.34" y2="812" stroke-width="4.7" stroke-linecap="round"/>
<line x1="1828.54" y1="860.9" x2="1843.34" y2="860.9" stroke-width="4.7" stroke-linecap="round"/>
<polygon points="1835.94,829.28 1843.14,843.68 1828.74,843.68"/>
<line x1="1878.72" y1="892.2" x2="1878.72" y2="928.5" stroke-width="4.7"/>
<line x1="1871.32" y1="892.2" x2="1886.12" y2="892.2" stroke-width="4.7" stroke-linecap="round"/>
<line x1="1871.32" y1="928.5" x2="1886.12" y2="928.5" stroke-width="4.7" stroke-linecap="round"/>
<polygon points="1878.72,898.58 1885.92,912.98 1871.52,912.98"/>
<polygon points="1921.5,1057.18 1928.7,1071.58 1914.3,1071.58"/>
<polygon points="1964.28,1061.38 1971.48,1075.78 1957.08,1075.78"/>
<circle cx="1536.48" cy="1064.5" r="6.9"/>
<circle cx="1579.26" cy="1061.8" r="6.9"/>
<circle cx="1622.04" cy="1043.9" r="6.9"/>
<circle cx="1664.82" cy="1023.9" r="6.9"/>
<circle cx="1707.6" cy="965.6" r="6.9"/>
<line x1="1750.38" y1="927.8" x2="1750.38" y2="941" stroke-width="4.7"/>
<line x1="1742.98" y1="927.8" x2="1757.78" y2="927.8" stroke-width="4.7" stroke-linecap="round"/>
<line x1="1742.98" y1="941" x2="1757.78" y2="941" stroke-width="4.7" stroke-linecap="round"/>
<circle cx="1750.38" cy="934" r="6.9"/>
<circle cx="1793.16" cy="905.4" r="6.9"/>
<line x1="1835.94" y1="864.9" x2="1835.94" y2="883.4" stroke-width="4.7"/>
<line x1="1828.54" y1="864.9" x2="1843.34" y2="864.9" stroke-width="4.7" stroke-linecap="round"/>
<line x1="1828.54" y1="883.4" x2="1843.34" y2="883.4" stroke-width="4.7" stroke-linecap="round"/>
<circle cx="1835.94" cy="874" r="6.9"/>
<line x1="1878.72" y1="903" x2="1878.72" y2="926" stroke-width="4.7"/>
<line x1="1871.32" y1="903" x2="1886.12" y2="903" stroke-width="4.7" stroke-linecap="round"/>
<line x1="1871.32" y1="926" x2="1886.12" y2="926" stroke-width="4.7" stroke-linecap="round"/>
<circle cx="1878.72" cy="914.2" r="6.9"/>
<circle cx="1921.5" cy="1057.5" r="6.9"/>
<circle cx="1964.28" cy="1064.6" r="6.9"/>
</svg>
</body>
</html>
